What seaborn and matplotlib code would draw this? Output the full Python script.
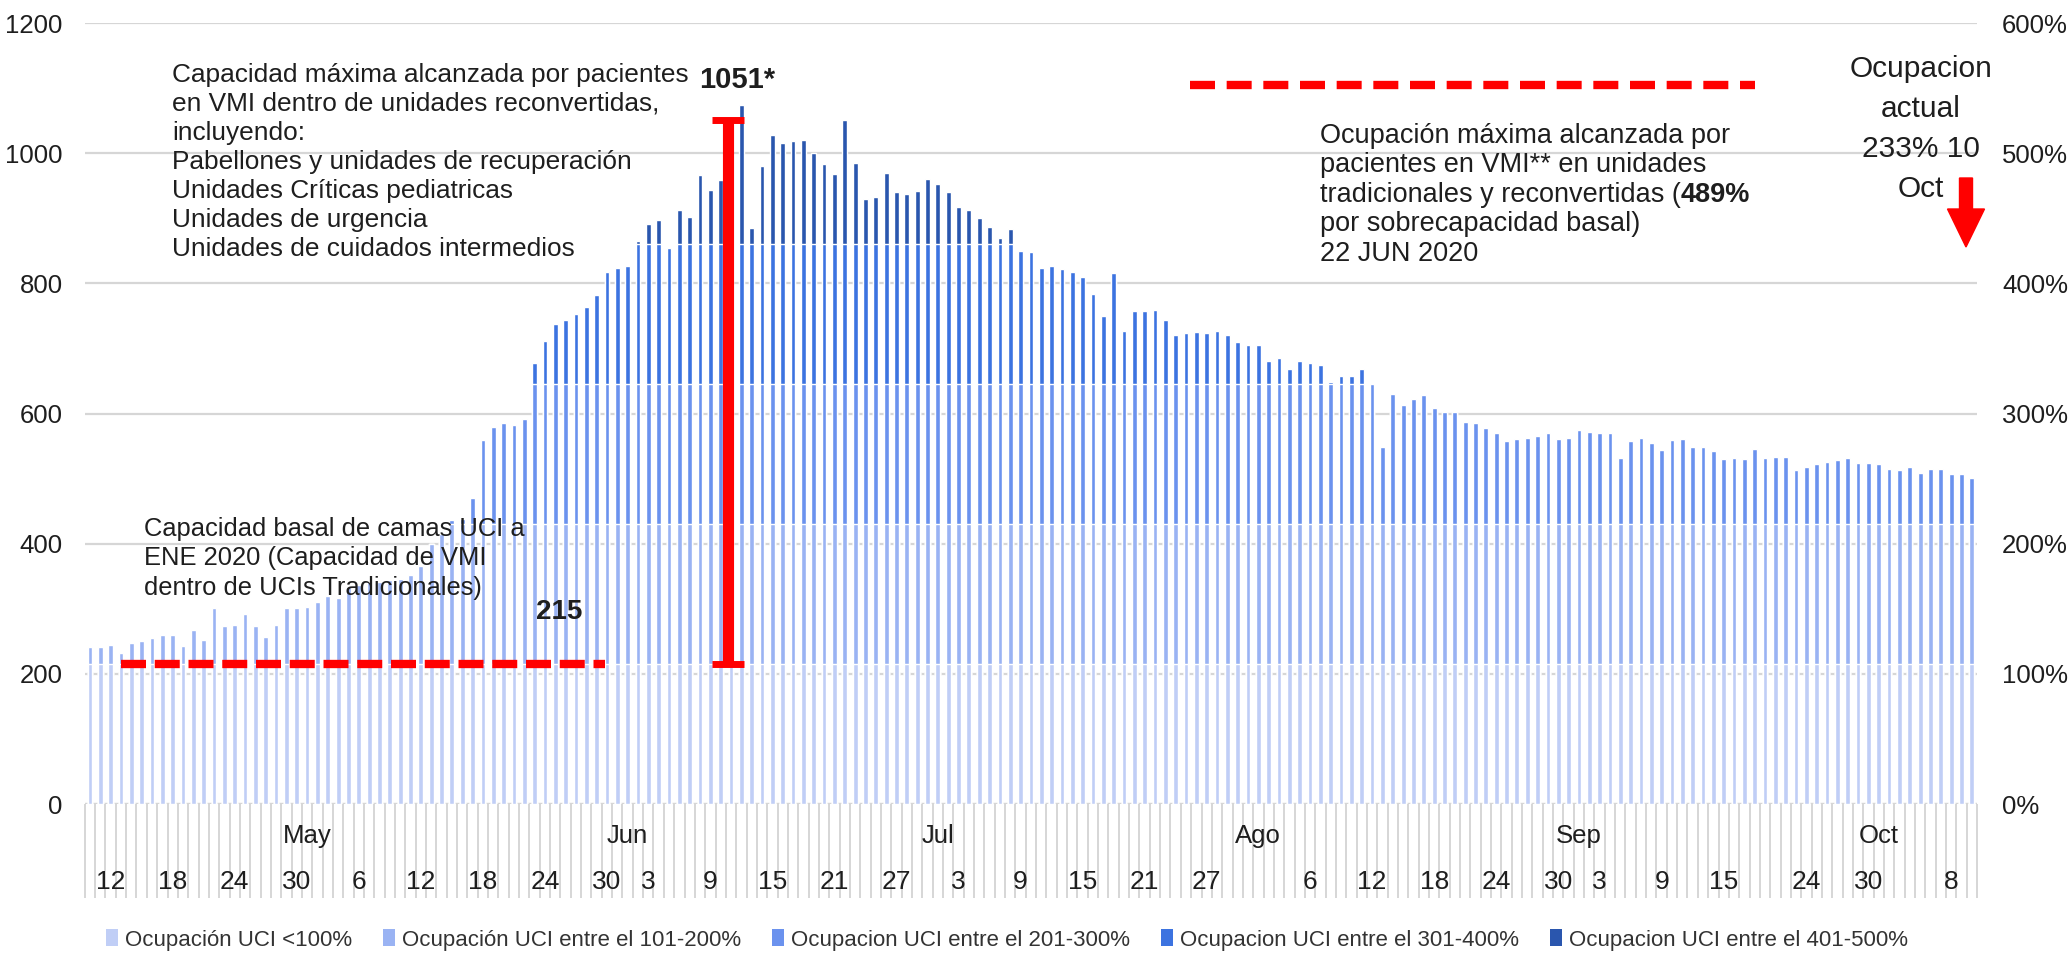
import numpy as np
import pandas as pd
import matplotlib
matplotlib.use("Agg")
import matplotlib.pyplot as plt
from matplotlib.patches import Patch, FancyArrow
import seaborn as sns

# ---------------------------------------------------------------
# Pacientes en VMI por día (10 abr – 10 oct 2020)
# ---------------------------------------------------------------
abril = [241, 241, 245, 232, 248, 250, 255, 259, 259, 243, 268, 252, 301, 274,
         275, 292, 273, 257, 275, 301, 301]
mayo = [302, 311, 319, 317, 334, 337, 341, 341, 344, 345, 352, 365, 400, 415,
        436, 438, 470, 560, 580, 586, 582, 592, 678, 712, 738, 744, 753, 764,
        782, 818, 823]
junio = [827, 865, 891, 898, 855, 912, 902, 966, 944, 959, 990, 1074, 885, 981,
         1028, 1016, 1019, 1020, 1001, 984, 968, 1051, 985, 929, 933, 970, 940,
         937, 942, 961]
julio = [952, 940, 918, 912, 901, 887, 870, 883, 850, 848, 824, 826, 822, 818,
         810, 784, 750, 816, 727, 757, 757, 759, 744, 720, 723, 725, 723, 727,
         720, 710, 706]
agosto = [706, 680, 685, 669, 680, 677, 674, 649, 657, 657, 668, 645, 548, 630,
          613, 622, 628, 608, 602, 602, 587, 585, 578, 570, 557, 561, 563, 565,
          570, 561, 563]
septiembre = [574, 572, 570, 570, 531, 557, 563, 555, 544, 559, 561, 548, 548,
              542, 530, 531, 530, 546, 531, 533, 533, 513, 518, 523, 526, 529,
              531, 524, 524]
octubre = [523, 515, 513, 518, 509, 515, 515, 507, 507, 501]

fecha_inicio = "2020-04-10"
fecha_fin = "2020-10-10"
fechas_sin_dato = ["2020-09-19"]

capacidad_basal = 215          # camas UCI a enero 2020
maximo_reconvertidas = 1051     # 489 % de la capacidad basal
referencia_maximo = 1105

# Tramos de ocupación (múltiplos de la capacidad basal)
limites_tramo = [215, 430, 645, 860, 1075]
nombres_tramo = ["Ocupación UCI <100%",
                 "Ocupación UCI entre el 101-200%",
                 "Ocupacion UCI entre el 201-300%",
                 "Ocupacion UCI entre el 301-400%",
                 "Ocupacion UCI entre el 401-500%"]
colores_tramo = ["#c0cef6", "#9ab3f3", "#6b92ee", "#3c73e0", "#2a56ae"]

# Ejes
ticks_izq = [0, 200, 400, 600, 800, 1000, 1200]
ticks_der = [0, 100, 200, 300, 400, 500, 600]
dias_rotulados = ["2020-04-12", "2020-04-18", "2020-04-24", "2020-04-30",
                  "2020-05-06", "2020-05-12", "2020-05-18", "2020-05-24",
                  "2020-05-30", "2020-06-03", "2020-06-09", "2020-06-15",
                  "2020-06-21", "2020-06-27", "2020-07-03", "2020-07-09",
                  "2020-07-15", "2020-07-21", "2020-07-27", "2020-08-06",
                  "2020-08-12", "2020-08-18", "2020-08-24", "2020-08-30",
                  "2020-09-03", "2020-09-09", "2020-09-15", "2020-09-24",
                  "2020-09-30", "2020-10-08"]
inicio_meses = ["2020-05-01", "2020-06-01", "2020-07-01", "2020-08-01",
                "2020-09-01", "2020-10-01"]
nombres_meses = ["May", "Jun", "Jul", "Ago", "Sep", "Oct"]

# ---------------------------------------------------------------
fechas = pd.date_range(fecha_inicio, fecha_fin, freq="D")
fechas = fechas.drop(pd.to_datetime(fechas_sin_dato))
pacientes = np.array(abril + mayo + junio + julio + agosto + septiembre + octubre)
n = len(fechas)
pos = np.arange(n)
df = pd.DataFrame({"dia": pos, "pacientes": pacientes})

sns.set_theme(style="white")
plt.rcParams["font.family"] = ["Liberation Sans", "DejaVu Sans"]
TXT = "#1e1e1e"
ROJO = "#ff0000"
GRIS = "#d6d6d6"
NARROW = ["Liberation Sans Narrow", "Liberation Sans", "DejaVu Sans"]

W, H = 2070, 956
fig = plt.figure(figsize=(W / 100, H / 100), dpi=100)
ax = fig.add_axes([84.8 / W, 1 - 804 / H, (1977 - 84.8) / W, (804 - 23) / H])


def fx(px):
    return px / W


def fy(py):
    return 1 - py / H


# Barras apiladas: cada tramo se superpone al anterior, desde el más alto
for k in range(len(limites_tramo) - 1, -1, -1):
    tramo = df.assign(altura=np.minimum(df["pacientes"], limites_tramo[k]))
    sns.barplot(data=tramo, x="dia", y="altura", color=colores_tramo[k],
                saturation=1, width=0.46, errorbar=None, ax=ax, zorder=2)

ax.set_xlim(-0.5, n - 0.5)
ax.set_ylim(0, 1200)
ax.set_yticks(ticks_izq)
ax.set_yticklabels([str(t) for t in ticks_izq])
ax.set_xticks([])
ax.set_xlabel("")
ax.set_ylabel("")
ax.grid(axis="y", color=GRIS, lw=1.6, zorder=0)
ax.set_axisbelow(True)
for s in ax.spines.values():
    s.set_visible(False)
ax.tick_params(axis="y", length=0, pad=16, labelsize=18.5, labelcolor=TXT)

ax2 = ax.twinx()
ax2.set_ylim(0, 600)
ax2.set_yticks(ticks_der)
ax2.set_yticklabels([f"{t}%" for t in ticks_der])
ax2.tick_params(axis="y", length=0, pad=18, labelsize=18.5, labelcolor=TXT)
ax2.grid(False)
for s in ax2.spines.values():
    s.set_visible(False)

# Eje de categorías de dos niveles
xt = ax.get_xaxis_transform()
ax.axhline(0, color=GRIS, lw=1.6, zorder=1)
ax.vlines(np.arange(-0.5, n, 1.0), -0.1204, 0, transform=xt, colors=GRIS,
          lw=1.4, clip_on=False)
for d in dias_rotulados:
    i = fechas.get_loc(pd.Timestamp(d))
    ax.text(i, -0.0999, str(pd.Timestamp(d).day), transform=xt, ha="center",
            va="center", fontsize=19, color=TXT)
for d, nombre in zip(inicio_meses, nombres_meses):
    i = fechas.get_loc(pd.Timestamp(d))
    ax.text(i, -0.041, nombre, transform=xt, ha="center", va="center",
            fontsize=18.5, color=TXT)

# Capacidad basal y máximo alcanzado
ax.hlines(capacidad_basal, 3.0, 49.8, colors=ROJO, lw=6,
          linestyles=(0, (3.0, 1.05)), zorder=4)
ax.hlines(referencia_maximo, 106.4, 161.0, colors=ROJO, lw=6,
          linestyles=(0, (3.0, 1.4)), zorder=4)
ax.errorbar(61.7, (capacidad_basal + maximo_reconvertidas) / 2,
            yerr=(maximo_reconvertidas - capacidad_basal) / 2, fmt="none",
            ecolor=ROJO, elinewidth=8, capsize=11.5, capthick=5, zorder=5)

fig.text(fx(699), fy(80), f"{maximo_reconvertidas}*", fontsize=21,
         fontweight="bold", color=TXT, va="center", ha="left")
fig.text(fx(536), fy(612), f"{capacidad_basal}", fontsize=20,
         fontweight="bold", color=TXT, va="center", ha="left")

bloque_izq = ["Capacidad máxima alcanzada por pacientes",
              "en VMI dentro de unidades reconvertidas,",
              "incluyendo:",
              "Pabellones y unidades de recuperación",
              "Unidades Críticas pediatricas",
              "Unidades de urgencia",
              "Unidades de cuidados intermedios"]
for j, linea in enumerate(bloque_izq):
    fig.text(fx(172), fy(75 + 29.0 * j), linea, fontsize=18.9, color=TXT,
             va="center", ha="left")

bloque_basal = ["Capacidad basal de camas UCI a",
                "ENE 2020 (Capacidad de VMI",
                "dentro de UCIs Tradicionales)"]
for j, linea in enumerate(bloque_basal):
    fig.text(fx(144), fy(529 + 29.5 * j), linea, fontsize=18.4, color=TXT,
             va="center", ha="left")

bloque_der = ["Ocupación máxima alcanzada por",
              "pacientes en VMI** en unidades",
              "tradicionales y reconvertidas (",
              "por sobrecapacidad basal)",
              "22 JUN 2020"]
renderer = fig.canvas.get_renderer()
for j, linea in enumerate(bloque_der):
    t = fig.text(fx(1320), fy(136 + 29.4 * j), linea, fontsize=19.5,
                 family=NARROW, color=TXT, va="center", ha="left")
    if j == 2:
        bb = t.get_window_extent(renderer)
        fig.text(bb.x1 / W, fy(136 + 29.4 * j), "489%", fontsize=19.5,
                 family=NARROW, fontweight="bold", color=TXT, va="center",
                 ha="left")

for j, linea in enumerate(["Ocupacion", "actual", "233% 10", "Oct"]):
    fig.text(fx(1921), fy(69 + 40 * j), linea, fontsize=21.5, family=NARROW,
             color=TXT, va="center", ha="center")

fig.add_artist(FancyArrow(19.66, (H - 178) / 100, 0, -0.69, width=0.13,
                          head_width=0.37, head_length=0.38,
                          length_includes_head=True, color=ROJO,
                          transform=fig.dpi_scale_trans))

# Leyenda
handles = [Patch(facecolor=c, edgecolor="none") for c in colores_tramo]
fig.legend(handles, nombres_tramo, loc="center",
           bbox_to_anchor=(fx(1007), fy(940)), ncol=5, frameon=False,
           fontsize=16, handlelength=0.55, handleheight=0.8,
           handletextpad=0.3, columnspacing=1.4, labelcolor="#333333")

fig.savefig("out.png", dpi=100)
